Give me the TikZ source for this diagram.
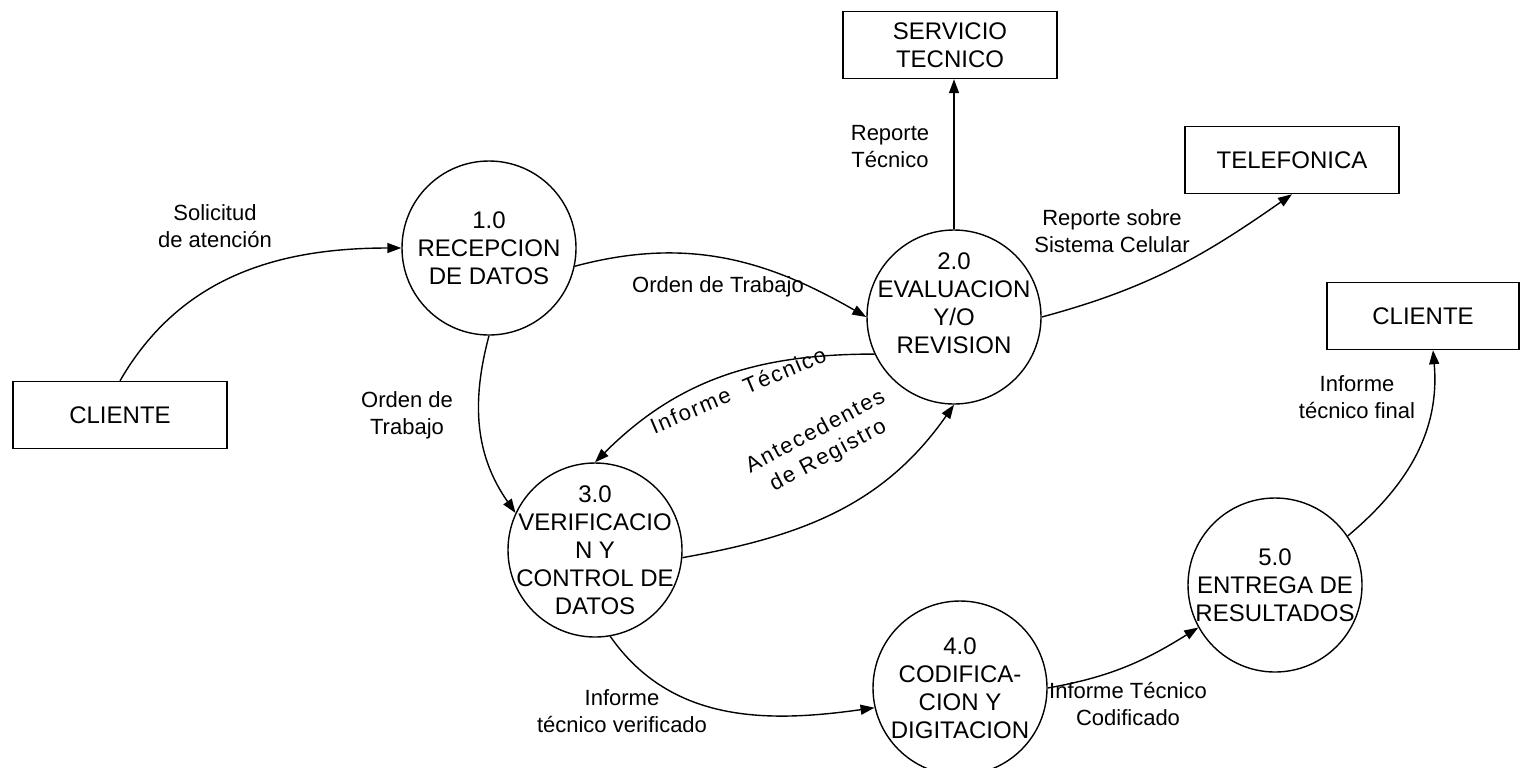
\documentclass[tikz,border=0pt]{standalone}
\usepackage{fontspec}
\setmainfont{Liberation Sans}
\usetikzlibrary{arrows.meta}

\begin{document}
\begin{tikzpicture}[x=0.5pt,y=-0.5pt,
    proc/.style={draw, circle, line width=0.7pt, minimum size=87pt, inner sep=-16pt, align=center, font=\fontsize{12}{14}\selectfont},
    ext/.style={draw, rectangle, line width=0.7pt, minimum width=107pt, minimum height=33.5pt, align=center, font=\fontsize{12}{14}\selectfont},
    flow/.style={-{Triangle[length=7pt,width=5pt]}, line width=0.7pt},
    lbl/.style={align=center, inner sep=0pt, font=\fontsize{11}{13.5}\selectfont},
    slbl/.style={lbl, font=\fontsize{11}{13.5}\selectfont\addfontfeatures{LetterSpace=8}}]
  \useasboundingbox (0,0) rectangle (1530,767);

  \node[ext] (cli1) at (120,415) {CLIENTE};
  \node[ext] (srv) at (950,45) {SERVICIO\\TECNICO};
  \node[ext] (tel) at (1292,160) {TELEFONICA};
  \node[ext, minimum width=96pt] (cli2) at (1423,316) {CLIENTE};

  \node[proc] (p1) at (489,248) {1.0\\RECEPCION\\DE DATOS};
  \node[proc] (p2) at (954,317) {2.0\\EVALUACION\\Y/O\\REVISION\\\mbox{}};
  \node[proc] (p3) at (595,550) {3.0\\VERIFICACIO\\N Y\\CONTROL DE\\DATOS};
  \node[proc] (p4) at (960,688) {4.0\\CODIFICA-\\CION Y\\DIGITACION};
  \node[proc] (p5) at (1275,585) {5.0\\ENTREGA DE\\RESULTADOS};

  \draw[flow] (cli1.north) to[out=60, in=180] (p1.west);
  \draw[flow] (p1.-12) to[out=15, in=150] (p2.west);
  \draw[flow] (p1.south) to[out=255, in=125] (p3.155);
  \draw[flow] (p2.205) to[out=180, in=45] (p3.north);
  \draw[flow] (p3.-5) to[out=10, in=235] (p2.south);
  \draw[flow] (p2.north) -- (p2.north |- srv.south);
  \draw[flow] (p2.east) to[out=15, in=215] (tel.south);
  \draw[flow] (p3.-80) to[out=-55, in=188] (p4.193);
  \draw[flow] (p4.east) to[out=10, in=212] (p5.209);
  \draw[flow] (p5.34) to[out=40, in=-85] ([xshift=5pt]cli2.south);

  \node[lbl] (lSol) at (215,226) {Solicitud\\de atención};
  \node[lbl] (lOrd1) at (718,287) {Orden de Trabajo};
  \node[lbl] (lOrd2) at (407,415) {Orden de\\Trabajo};
  \node[slbl, rotate=23] (lInf) at (738,390) {Informe\ \ Técnico};
  \node[slbl, rotate=28] (lAnt) at (822,444) {Antecedentes\\de Registro};
  \node[lbl] (lRep) at (890,147) {Reporte\\Técnico};
  \node[lbl] (lSis) at (1112,231) {Reporte sobre\\Sistema Celular};
  \node[lbl] (lVer) at (622,711) {Informe\\técnico verificado};
  \node[lbl] (lCod) at (1128,704) {Informe Técnico\\Codificado};
  \node[lbl] (lFin) at (1357,397) {Informe\\técnico final};
\end{tikzpicture}
\end{document}
